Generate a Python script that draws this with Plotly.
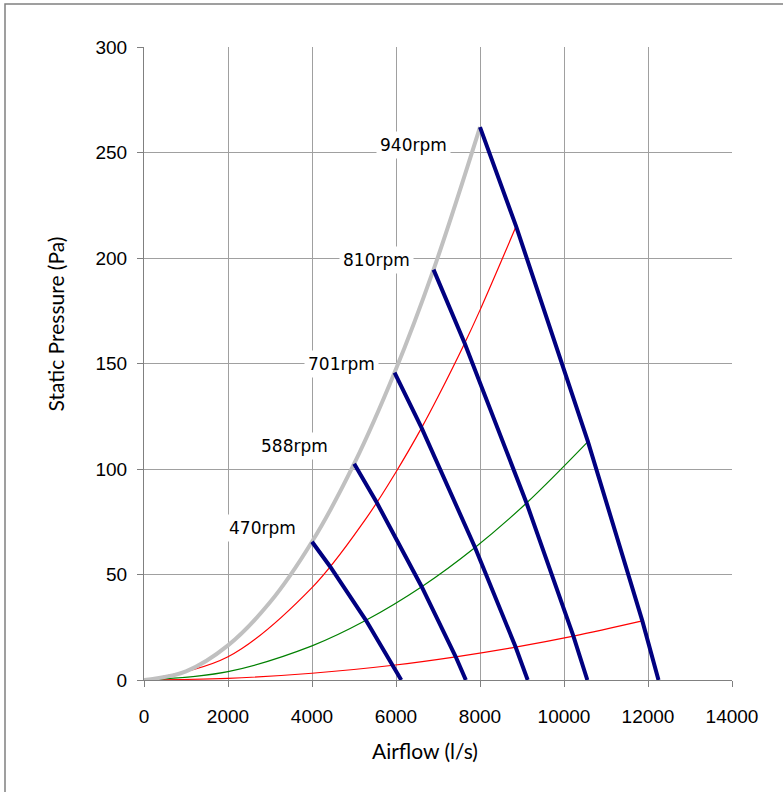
import plotly.graph_objects as go

# ---- Fan curves (airflow l/s, static pressure Pa) ----
fan_470_q = [4000, 4430, 5285, 5933, 6125]
fan_470_p = [65.5, 53.8, 28.3, 7.0, 0]
fan_588_q = [5004, 5542, 6612, 7422, 7663]
fan_588_p = [102.5, 84.1, 44.2, 11.0, 0]
fan_701_q = [5966, 6607, 7882, 8848, 9135]
fan_701_p = [145.7, 119.6, 62.8, 15.6, 0]
fan_810_q = [6894, 7635, 9108, 10224, 10556]
fan_810_p = [194.5, 159.6, 83.9, 20.8, 0]
fan_940_q = [8000, 8860, 10570, 11865, 12250]
fan_940_p = [262, 215, 113, 28, 0]

# ---- System curves ----
sys_grey_q = [0, 1000, 2000, 3000, 4000, 5004, 5966, 6894, 8000]
sys_grey_p = [0, 4.1, 16.4, 36.8, 65.5, 102.5, 145.7, 194.5, 262]
sys_red1_q = [0, 2000, 4000, 5285, 6000, 6612, 7000, 7635, 8000, 8860]
sys_red1_p = [0, 11.0, 43.8, 76.5, 98.6, 119.6, 134.2, 159.6, 175.3, 215]
sys_green_q = [0, 2000, 4000, 5285, 6612, 7882, 9108, 10570]
sys_green_p = [0, 4.0, 16.2, 28.3, 44.2, 62.8, 83.9, 113]
sys_red2_q = [0, 2000, 4000, 5933, 7422, 8848, 10224, 11865]
sys_red2_p = [0, 0.8, 3.2, 7.0, 11.0, 15.6, 20.8, 28]

# ---- Labels ----
label_text = ["470rpm", "588rpm", "701rpm", "810rpm", "940rpm"]
label_q = [2810, 3595, 4714, 5524, 6405]
label_p = [72, 111, 150, 199, 253.6]

x_ticks = [0, 2000, 4000, 6000, 8000, 10000, 12000, 14000]
y_ticks = [0, 50, 100, 150, 200, 250, 300]

ML, MT, PW, PH = 144, 47, 588, 633
W, H = 783, 792

fig = go.Figure()

def add(q, p, color, width, shape="linear"):
    fig.add_trace(go.Scatter(x=q, y=p, mode="lines",
                             line=dict(color=color, width=width, shape=shape),
                             hoverinfo="skip", showlegend=False))

add(sys_red2_q, sys_red2_p, "#FF0000", 1.2, "spline")
add(sys_green_q, sys_green_p, "#008000", 1.2, "spline")
add(sys_red1_q, sys_red1_p, "#FF0000", 1.2, "spline")
add(sys_grey_q, sys_grey_p, "#C0C0C0", 4, "spline")
for q, p in [(fan_470_q, fan_470_p), (fan_588_q, fan_588_p), (fan_701_q, fan_701_p),
             (fan_810_q, fan_810_p), (fan_940_q, fan_940_p)]:
    add(q, p, "#000080", 4)

for t, q, p in zip(label_text, label_q, label_p):
    fig.add_annotation(x=q, y=p, text=t, showarrow=False,
                       font=dict(family="DejaVu Sans", size=17, color="black"),
                       bgcolor="white", borderpad=3)

axis_common = dict(showgrid=True, gridcolor="#A0A0A0", gridwidth=1,
                   showline=True, linecolor="#808080", linewidth=1,
                   ticks="outside", ticklen=6, tickcolor="#808080",
                   tickfont=dict(family="Liberation Sans, Arial, sans-serif",
                                 size=19, color="black"),
                   zeroline=False)

fig.update_xaxes(range=[0, 14000], tickvals=x_ticks, ticktext=[str(v) for v in x_ticks],
                 ticklabelstandoff=13, **axis_common)
fig.update_yaxes(range=[0, 300], tickvals=y_ticks, ticktext=[str(v) for v in y_ticks],
                 ticklabelstandoff=6, **axis_common)

def px(x):
    return (x - ML) / PW

def py(y):
    return (MT + PH - y) / PH

# Axis titles as annotations (positions in page pixels)
fig.add_annotation(xref="paper", yref="paper", x=px(425), y=py(765),
                   text="Airflow (l/s)", showarrow=False,
                   font=dict(family="Lato", size=21, color="black"))
fig.add_annotation(xref="paper", yref="paper", x=px(40), y=py(324),
                   text="Static Pressure (Pa)", showarrow=False, textangle=-90,
                   font=dict(family="Lato", size=21, color="black"))

# Outer chart border
fig.add_shape(type="rect", xref="paper", yref="paper",
              x0=px(5), x1=px(820), y0=py(830), y1=py(4),
              line=dict(color="#808080", width=1.5), fillcolor="rgba(0,0,0,0)", layer="below")

fig.update_layout(width=W, height=H,
                  margin=dict(l=ML, r=W - ML - PW, t=MT, b=H - MT - PH),
                  plot_bgcolor="white", paper_bgcolor="white")

fig.write_html("out.html", config={"displayModeBar": False},
               post_script="document.body.style.margin='0';document.body.style.overflow='hidden';")
